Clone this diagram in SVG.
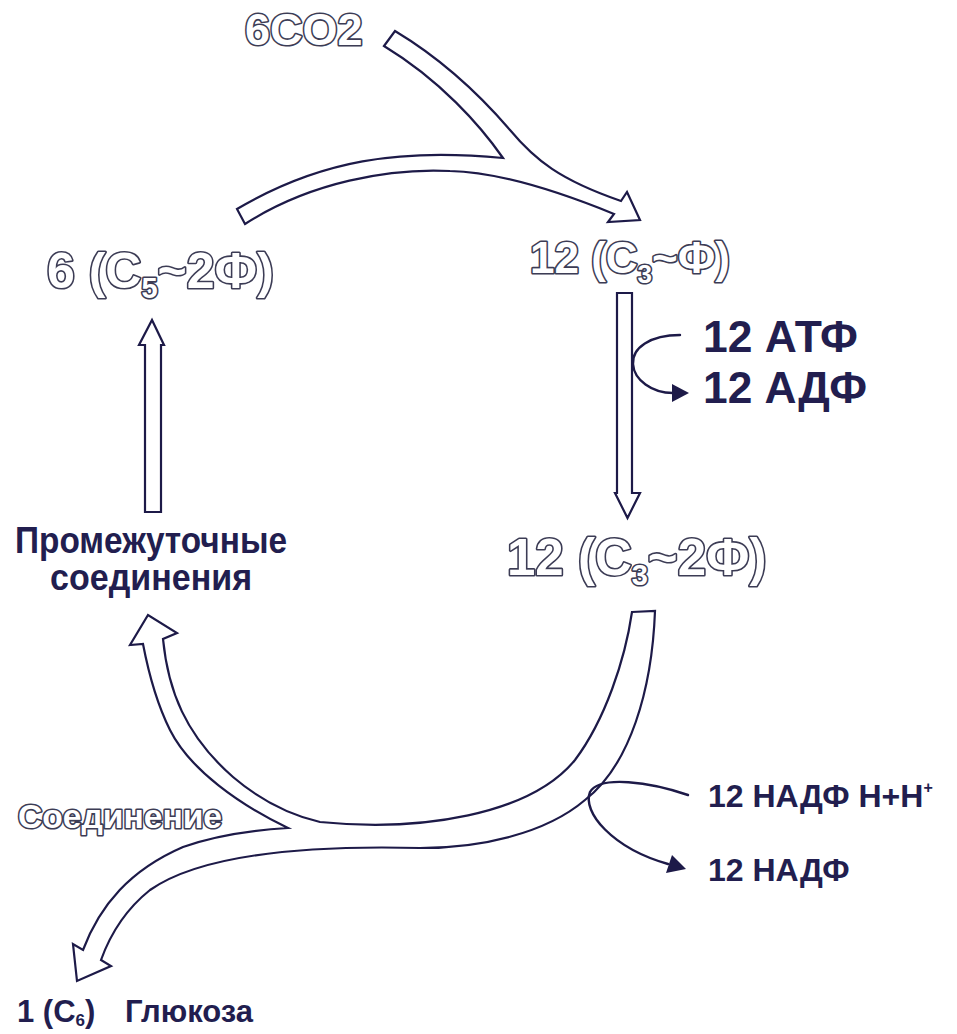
<svg xmlns="http://www.w3.org/2000/svg" width="957" height="1034" viewBox="0 0 957 1034">
<style>
.bg{fill:#ffffff}
.arr{fill:#ffffff;stroke:#1d1a48;stroke-width:2.2;stroke-linejoin:miter}
.thin{fill:none;stroke:#1d1a48;stroke-width:2.4;stroke-linecap:round}
.head{fill:#1d1a48;stroke:none}
.ol{font-family:"Liberation Sans",Arial,sans-serif;font-weight:bold;fill:#ffffff;stroke:#3c3c55;stroke-width:3.2;paint-order:stroke;stroke-linejoin:round}
.bd{font-family:"Liberation Sans",Arial,sans-serif;font-weight:bold;fill:#221e4f}
</style>
<rect class="bg" x="0" y="0" width="957" height="1034"/>
<g id="connectors">
  <path id="top-merge" class="arr" d="M395,31 C440,58 480,95 510,130 C535,160 560,180 621,201 L627,192 L640,220 L608,222 L614,214 C560,192 500,172 450,171 C390,168 310,182 245,224 L237,209 C320,160 400,148 503,158 C480,125 440,80 384,46 Z"/>
  <path id="down-arrow" class="arr" d="M617,293 L632,293 L632,493 L640,493 L627.5,518 L615,493 L617,493 Z"/>
  <path id="up-arrow" class="arr" d="M145,512 L161,512 L161,345 L164,345 L152,320 L139,345 L145,345 Z"/>
  <path id="bottom-split" class="arr" d="M632,612 L655,611 C652,690 630,765 585,800 C545,834 480,848 420,848 C300,845 200,855 150,890 C125,910 110,935 101,960 L111,966 L77,981 L73,944 L83,950 C100,905 130,870 183,847 C220,834 255,830 288,828 C240,805 190,770 170,730 C155,700 148,670 143,644 L130,645 L148,615 L177,633 L163,639 C168,690 185,735 233,777 C260,800 290,815 320,822 C420,832 530,815 575,760 C605,720 625,660 632,612 Z"/>
  <path id="atp-arrow" class="thin" d="M680,335 C650,335 632,348 633,364 C634,380 652,393 673,393"/>
  <polygon class="head" points="689,393 672,384 672,402"/>
  <path id="nadph-arrow" class="thin" d="M688,795 C650,782 600,775 590,792 C582,812 612,848 668,864"/>
  <polygon class="head" points="686,869 666,873 672,855"/>
</g>
<g id="node-co2"><text class="ol" x="245" y="45" font-size="45">6CO2</text></g>
<g id="node-rubp"><text class="ol" x="47" y="288" font-size="50">6 (C<tspan font-size="29" dy="10">5</tspan><tspan dy="-10">~2Ф)</tspan></text></g>
<g id="node-pga"><text class="ol" x="530" y="273" font-size="44">12 (C<tspan font-size="26" dy="10">3</tspan><tspan dy="-10">~Ф)</tspan></text></g>
<g id="node-dpga"><text class="ol" x="507" y="575" font-size="51">12 (C<tspan font-size="29" dy="10">3</tspan><tspan dy="-10">~2Ф)</tspan></text></g>
<g id="node-atp">
  <text class="bd" x="703" y="352" font-size="45" textLength="155" lengthAdjust="spacingAndGlyphs">12 АТФ</text>
  <text class="bd" x="703" y="403" font-size="45" textLength="164" lengthAdjust="spacingAndGlyphs">12 АДФ</text>
</g>
<g id="node-intermediates">
  <text class="bd" x="15" y="553" font-size="36" textLength="272" lengthAdjust="spacingAndGlyphs">Промежуточные</text>
  <text class="bd" x="50" y="590" font-size="36" textLength="202" lengthAdjust="spacingAndGlyphs">соединения</text>
</g>
<g id="node-join"><text class="ol" x="18" y="828" font-size="34" textLength="204" lengthAdjust="spacingAndGlyphs">Соединение</text></g>
<g id="node-nadph"><text class="bd" x="708" y="807" font-size="32">12 НАДФ Н+Н<tspan font-size="16" dy="-14">+</tspan></text></g>
<g id="node-nadp"><text class="bd" x="708" y="881" font-size="32">12 НАДФ</text></g>
<g id="node-glucose"><text class="bd" x="17" y="1022" font-size="31">1 (C<tspan font-size="17" dy="4">6</tspan><tspan dy="-4">)</tspan><tspan x="125">Глюкоза</tspan></text></g>
</svg>
